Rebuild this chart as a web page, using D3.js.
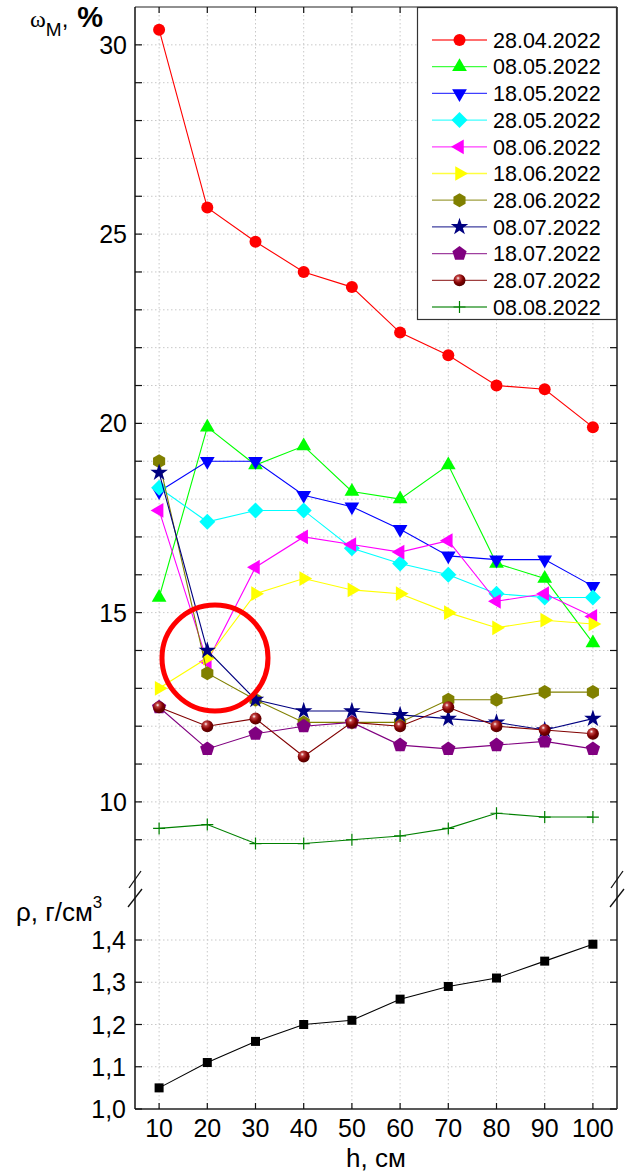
<!DOCTYPE html>
<html>
<head>
<meta charset="utf-8">
<script src="https://cdn.jsdelivr.net/npm/d3@7"></script>
<style>
  html, body { margin: 0; padding: 0; background: #fff; }
  svg { display: block; font-family: "Liberation Sans", Arial, sans-serif; }
</style>
</head>
<body>
<svg id="chart" width="629" height="1172"></svg>
<script>
// Depth of sampling, cm
const depths = [10, 20, 30, 40, 50, 60, 70, 80, 90, 100];

// Soil moisture ωм, % by sampling date
const dates = ["28.04.2022", "08.05.2022", "18.05.2022", "28.05.2022", "08.06.2022",
               "18.06.2022", "28.06.2022", "08.07.2022", "18.07.2022", "28.07.2022", "08.08.2022"];
const w_2804 = [30.4, 25.7, 24.8, 24.0, 23.6, 22.4, 21.8, 21.0, 20.9, 19.9];
const w_0805 = [15.4, 19.9, 18.9, 19.4, 18.2, 18.0, 18.9, 16.3, 15.9, 14.2];
const w_1805 = [18.2, 19.0, 19.0, 18.1, 17.8, 17.2, 16.5, 16.4, 16.4, 15.7];
const w_2805 = [18.3, 17.4, 17.7, 17.7, 16.7, 16.3, 16.0, 15.5, 15.4, 15.4];
const w_0806 = [17.7, 13.7, 16.2, 17.0, 16.8, 16.6, 16.9, 15.3, 15.5, 14.9];
const w_1806 = [13.0, 13.8, 15.5, 15.9, 15.6, 15.5, 15.0, 14.6, 14.8, 14.7];
const w_2806 = [19.0, 13.4, 12.7, 12.1, 12.1, 12.1, 12.7, 12.7, 12.9, 12.9];
const w_0807 = [18.7, 14.0, 12.7, 12.4, 12.4, 12.3, 12.2, 12.1, 11.9, 12.2];
const w_1807 = [12.5, 11.4, 11.8, 12.0, 12.1, 11.5, 11.4, 11.5, 11.6, 11.4];
const w_2807 = [12.5, 12.0, 12.2, 11.2, 12.1, 12.0, 12.5, 12.0, 11.9, 11.8];
const w_0808 = [9.3, 9.4, 8.9, 8.9, 9.0, 9.1, 9.3, 9.7, 9.6, 9.6];

// Soil bulk density ρ, g/cm³
const density = [1.05, 1.11, 1.16, 1.20, 1.21, 1.26, 1.29, 1.31, 1.35, 1.39];

// Axis ticks
const xTicks = [10, 20, 30, 40, 50, 60, 70, 80, 90, 100];
const wTickLabels = [10, 15, 20, 25, 30];
const rhoTicks = [1.0, 1.1, 1.2, 1.3, 1.4];

// Series styling: colour and marker shape
const colors = ["#ff0000", "#00ff00", "#0000ff", "#00ffff", "#ff00ff", "#ffff00",
                "#808000", "#000080", "#800080", "#800000", "#008000"];
const shapes = ["circle", "triUp", "triDown", "diamond", "triLeft", "triRight",
                "hexagon", "star", "pentagon", "sphere", "plus"];
const moisture = [w_2804, w_0805, w_1805, w_2805, w_0806, w_1806, w_2806, w_0807, w_1807, w_2807, w_0808];

const svg = d3.select("#chart");

const L = 135, R = 617, T = 7, B = 1109;
const x = d3.scaleLinear().domain([5, 105]).range([L, R]);
const yW = d3.scaleLinear().domain([8, 31]).range([877.6, T]);
const yR = d3.scaleLinear().domain([1.0, 1.5]).range([B, 897.75]);

// sphere gradient
const defs = svg.append("defs");
const grad = defs.append("radialGradient").attr("id", "sphereGrad")
  .attr("cx", "0.38").attr("cy", "0.32").attr("r", "0.7");
grad.append("stop").attr("offset", "0").attr("stop-color", "#ffffff");
grad.append("stop").attr("offset", "0.22").attr("stop-color", "#c04040");
grad.append("stop").attr("offset", "0.6").attr("stop-color", "#800000");
grad.append("stop").attr("offset", "1").attr("stop-color", "#500000");

function polygon(n, r, rot) {
  const pts = d3.range(n).map(i => {
    const a = rot + i * 2 * Math.PI / n;
    return [r * Math.cos(a), r * Math.sin(a)];
  });
  return "M" + pts.map(p => p.join(",")).join("L") + "Z";
}

function marker(g, shape, color, cx, cy) {
  const m = g.append("g").attr("transform", `translate(${cx},${cy})`);
  switch (shape) {
    case "circle":
      m.append("circle").attr("r", 6).attr("fill", color); break;
    case "sphere":
      m.append("circle").attr("r", 6).attr("fill", "url(#sphereGrad)"); break;
    case "triUp":
      m.append("path").attr("d", polygon(3, 8.5, -Math.PI / 2)).attr("fill", color); break;
    case "triDown":
      m.append("path").attr("d", polygon(3, 8.5, Math.PI / 2)).attr("fill", color); break;
    case "triLeft":
      m.append("path").attr("d", polygon(3, 8.5, Math.PI)).attr("fill", color); break;
    case "triRight":
      m.append("path").attr("d", polygon(3, 8.5, 0)).attr("fill", color); break;
    case "diamond":
      m.append("path").attr("d", polygon(4, 8, 0)).attr("fill", color); break;
    case "hexagon":
      m.append("path").attr("d", polygon(6, 7, -Math.PI / 2)).attr("fill", color); break;
    case "pentagon":
      m.append("path").attr("d", polygon(5, 7.5, -Math.PI / 2)).attr("fill", color); break;
    case "star":
      m.append("path").attr("d", d3.symbol(d3.symbolStar, 95)()).attr("fill", color); break;
    case "plus":
      m.append("path").attr("d", "M-6,0H6M0,-6V6").attr("stroke", color)
        .attr("stroke-width", 1.2).attr("fill", "none"); break;
    case "square":
      m.append("rect").attr("x", -4.5).attr("y", -4.5).attr("width", 9).attr("height", 9)
        .attr("fill", color); break;
  }
}

// grid
const grid = svg.append("g").attr("stroke", "#c8c8c8").attr("stroke-width", 1)
  .attr("stroke-dasharray", "1.5,2.5");
xTicks.forEach(v => grid.append("line").attr("x1", x(v)).attr("x2", x(v))
  .attr("y1", T).attr("y2", B));
d3.range(9, 31).forEach(v => grid.append("line").attr("x1", L).attr("x2", R)
  .attr("y1", yW(v)).attr("y2", yW(v)));
rhoTicks.slice(1).forEach(v => grid.append("line").attr("x1", L).attr("x2", R)
  .attr("y1", yR(v)).attr("y2", yR(v)));

// frame
const frame = svg.append("g").attr("fill", "none");
frame.append("line").attr("x1", L).attr("x2", R).attr("y1", T).attr("y2", T)
  .attr("stroke", "#222").attr("stroke-width", 1.2);
frame.append("line").attr("x1", L).attr("x2", R).attr("y1", B).attr("y2", B)
  .attr("stroke", "#222").attr("stroke-width", 1.5);
frame.append("line").attr("x1", L).attr("x2", L).attr("y1", T).attr("y2", B)
  .attr("stroke", "#111").attr("stroke-width", 1.5);
frame.append("line").attr("x1", R).attr("x2", R).attr("y1", T).attr("y2", B)
  .attr("stroke", "#555").attr("stroke-width", 2);

// ticks (pointing inward)
const ticks = svg.append("g").attr("stroke", "#111").attr("stroke-width", 1.2);
xTicks.forEach(v => {
  ticks.append("line").attr("x1", x(v)).attr("x2", x(v)).attr("y1", B).attr("y2", B - 6);
  ticks.append("line").attr("x1", x(v)).attr("x2", x(v)).attr("y1", T).attr("y2", T + 6);
});
d3.range(9, 31).forEach(v => {
  ticks.append("line").attr("x1", L).attr("x2", L + 7).attr("y1", yW(v)).attr("y2", yW(v));
  ticks.append("line").attr("x1", R).attr("x2", R - 7).attr("y1", yW(v)).attr("y2", yW(v));
});
rhoTicks.forEach(v => {
  ticks.append("line").attr("x1", L).attr("x2", L + 7).attr("y1", yR(v)).attr("y2", yR(v));
  ticks.append("line").attr("x1", R).attr("x2", R - 7).attr("y1", yR(v)).attr("y2", yR(v));
});

// axis break marks
const brk = svg.append("g").attr("stroke", "#111").attr("stroke-width", 1.3);
[L, R].forEach(ax => {
  brk.append("line").attr("x1", ax - 6).attr("y1", 888).attr("x2", ax + 6).attr("y2", 871);
  brk.append("line").attr("x1", ax - 7).attr("y1", 907).attr("x2", ax + 7).attr("y2", 889);
});

// tick labels
const labels = svg.append("g").attr("font-size", 25).attr("fill", "#000");
wTickLabels.forEach(v => labels.append("text").attr("x", 127).attr("y", yW(v))
  .attr("dy", "0.36em").attr("text-anchor", "end").text(v));
rhoTicks.forEach(v => labels.append("text").attr("x", 126).attr("y", yR(v))
  .attr("dy", "0.36em").attr("text-anchor", "end").text(d3.format(".1f")(v).replace(".", ",")));
xTicks.forEach(v => labels.append("text").attr("x", x(v)).attr("y", 1137)
  .attr("text-anchor", "middle").text(v));

// axis titles
svg.append("text").attr("x", x(55)).attr("y", 1167).attr("font-size", 26)
  .attr("text-anchor", "middle").text("h, см");

const wTitle = svg.append("text").attr("x", 30).attr("y", 27).attr("font-size", 24);
wTitle.append("tspan").attr("font-family", "Liberation Serif, serif").text("ω");
wTitle.append("tspan").attr("font-size", 19).attr("dy", 9).text("М");
wTitle.append("tspan").attr("dy", -9).text(",");
wTitle.append("tspan").attr("dx", 9).attr("font-weight", "bold").attr("font-size", 29).text("%");

const rTitle = svg.append("text").attr("x", 16).attr("y", 921).attr("font-size", 26);
rTitle.append("tspan").text("ρ, г/см");
rTitle.append("tspan").attr("font-size", 17).attr("dy", -13).text("3");

// moisture series
const line = d3.line().x((d, i) => x(depths[i])).y(d => yW(d));
moisture.forEach((vals, k) => {
  const g = svg.append("g");
  g.append("path").attr("d", line(vals)).attr("fill", "none")
    .attr("stroke", colors[k]).attr("stroke-width", 1.1);
  vals.forEach((v, i) => marker(g, shapes[k], colors[k], x(depths[i]), yW(v)));
});

// density series
const lineR = d3.line().x((d, i) => x(depths[i])).y(d => yR(d));
const gr = svg.append("g");
gr.append("path").attr("d", lineR(density)).attr("fill", "none")
  .attr("stroke", "#000").attr("stroke-width", 1.1);
density.forEach((v, i) => marker(gr, "square", "#000", x(depths[i]), yR(v)));

// legend
const leg = svg.append("g");
leg.append("rect").attr("x", 417.5).attr("y", 7.5).attr("width", 199).attr("height", 312)
  .attr("fill", "#fff").attr("stroke", "#333").attr("stroke-width", 1.2);
dates.forEach((d, k) => {
  const yy = 40 + k * 26.7;
  leg.append("line").attr("x1", 432).attr("x2", 487).attr("y1", yy).attr("y2", yy)
    .attr("stroke", colors[k]).attr("stroke-width", 1.3).attr("opacity", 0.75);
  marker(leg, shapes[k], colors[k], 459.5, yy);
  leg.append("text").attr("x", 493).attr("y", yy).attr("dy", "0.36em")
    .attr("font-size", 21.5).text(d);
});

// highlighted region around the 20 cm readings
svg.append("circle").attr("cx", 215).attr("cy", 658).attr("r", 53)
  .attr("fill", "none").attr("stroke", "#ff0000").attr("stroke-width", 5);
</script>
</body>
</html>
